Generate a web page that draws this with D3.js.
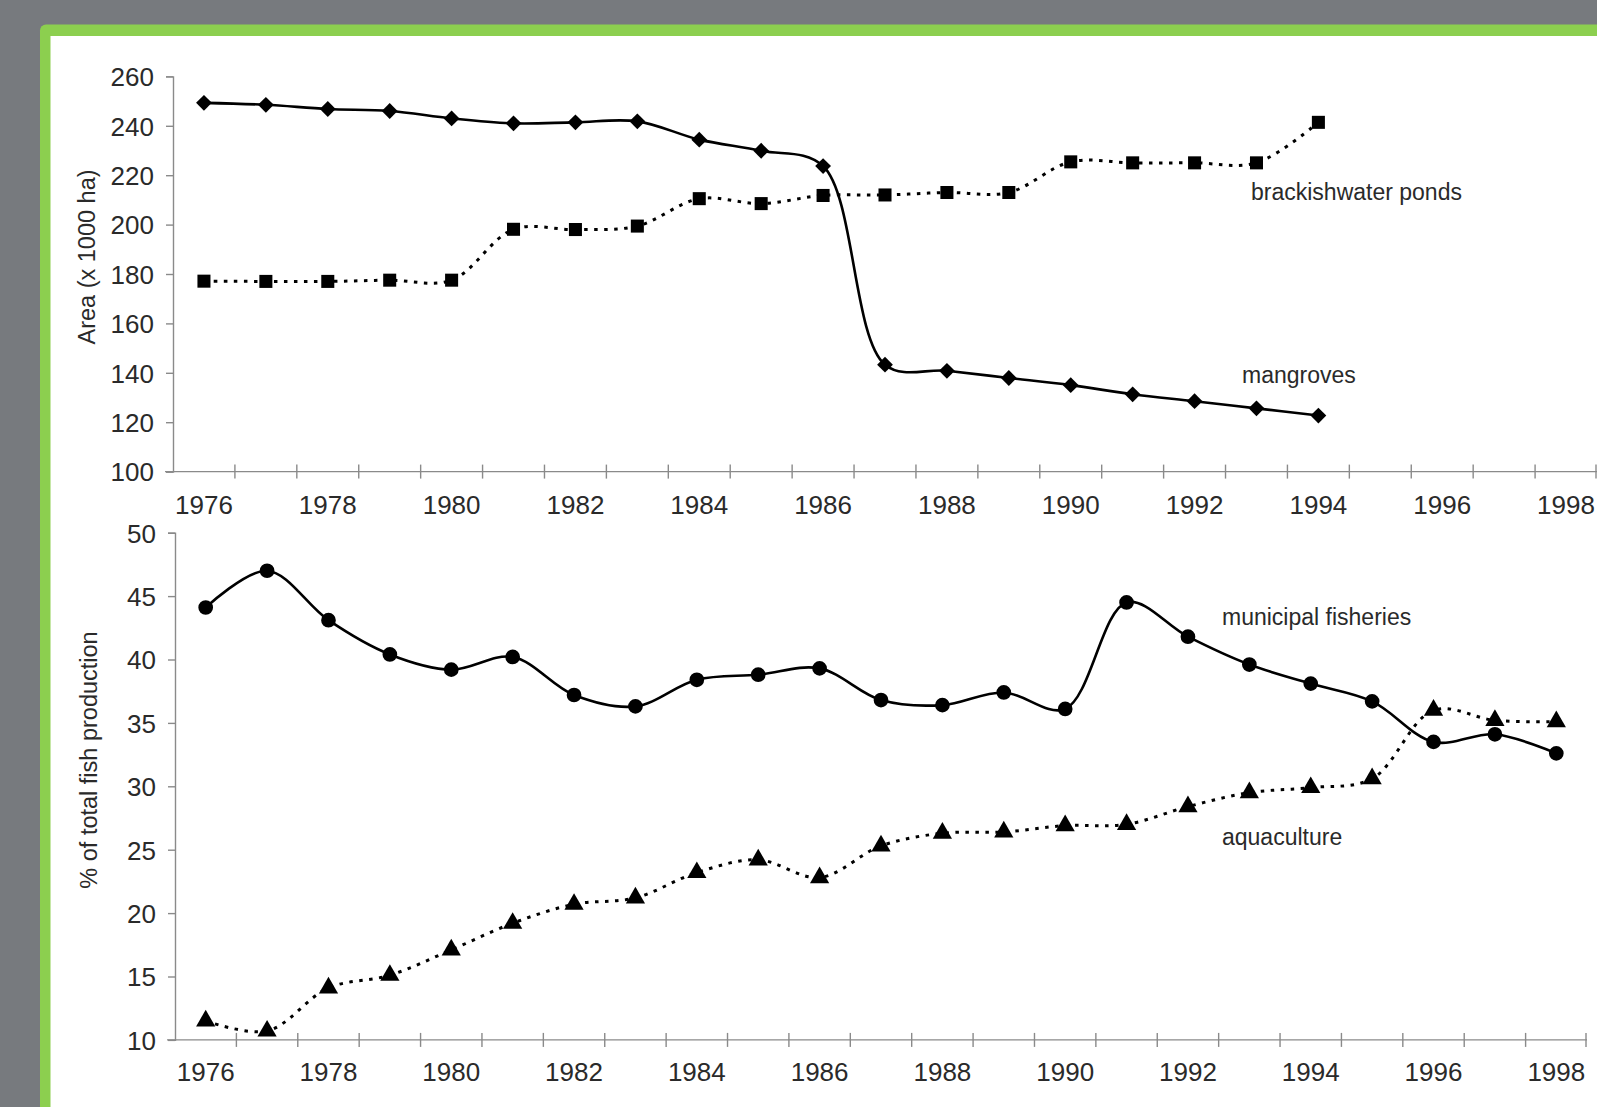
<!DOCTYPE html>
<html><head><meta charset="utf-8">
<script src="https://cdn.jsdelivr.net/npm/d3@7"></script>
<style>
html,body{margin:0;padding:0;background:#777a7e;overflow:hidden}
svg{display:block}
text{font-family:"Liberation Sans",Arial,sans-serif;fill:#2a2a2a}
</style></head>
<body>
<svg id="c" width="1597" height="1107"></svg>
<script>
// ---------- data ----------
const years = d3.range(1976, 1999);            // category axis 1976..1998
const areaYears = d3.range(1976, 1995);         // 1976..1994
const mangroves = [249.3,248.5,246.8,246,243,241,241.4,241.8,234.4,229.9,223.7,143.3,140.8,137.9,135,131.3,128.5,125.6,122.7];
const brackish  = [177.1,177,177,177.5,177.5,198.1,198,199.4,210.5,208.5,211.8,212,213,213,225.4,225,225,225,241.4];
const municipal = [44.1,47.0,43.1,40.4,39.2,40.2,37.2,36.3,38.4,38.8,39.3,36.8,36.4,37.4,36.1,44.5,41.8,39.6,38.1,36.7,33.5,34.1,32.6];
const aquaculture = [11.5,10.7,14.1,15.1,17.1,19.2,20.7,21.2,23.2,24.2,22.8,25.3,26.3,26.4,26.9,27.0,28.4,29.5,29.9,30.6,36.0,35.2,35.1];
const areaTicks = [100,120,140,160,180,200,220,240,260];
const pctTicks = [10,15,20,25,30,35,40,45,50];
const yearLabels = d3.range(1976, 1999, 2);

const svg = d3.select("#c");
// frame
svg.append("rect").attr("x",40).attr("y",24.5).attr("width",1600).attr("height",1120).attr("rx",6).attr("fill","#8ccf4f");
svg.append("rect").attr("x",50.5).attr("y",36).attr("width",1600).attr("height",1120).attr("fill","#ffffff");

function panel(cfg){
  const g = svg.append("g");
  const x = d3.scaleBand().domain(years).range(cfg.xr);
  const xc = d => x(d) + x.bandwidth()/2;
  const y = d3.scaleLinear().domain(cfg.yd).range(cfg.yr);
  const ya = g.append("g").attr("transform",`translate(${cfg.xr[0]},0)`)
    .call(d3.axisLeft(y).tickValues(cfg.yticks).tickSize(7).tickPadding(12));
  ya.select(".domain").attr("stroke","#8a8a8a").attr("stroke-width",1.4);
  ya.selectAll(".tick line").attr("stroke","#8a8a8a").attr("stroke-width",1.4);
  ya.selectAll(".tick text").style("font-size","26px").attr("fill","#2a2a2a").attr("dy","0.36em");
  const xa = g.append("g").attr("transform",`translate(0,${cfg.yr[0]})`);
  xa.append("line").attr("x1",cfg.xr[0]-8).attr("x2",cfg.xr[1]).attr("stroke","#8a8a8a").attr("stroke-width",1.4);
  xa.selectAll("line.tk").data(years.slice(1)).join("line").attr("class","tk")
    .attr("x1",d=>x(d)).attr("x2",d=>x(d)).attr("y1",-7).attr("y2",7)
    .attr("stroke","#8a8a8a").attr("stroke-width",1.4);
  xa.append("line").attr("x1",cfg.xr[1]-1).attr("x2",cfg.xr[1]-1).attr("y1",-7).attr("y2",7).attr("stroke","#8a8a8a").attr("stroke-width",1.4);
  xa.selectAll("text").data(yearLabels).join("text")
    .attr("x",d=>xc(d)).attr("y",cfg.xlabDy).attr("text-anchor","middle")
    .style("font-size","26px").text(d=>d);
  g.append("text").attr("transform",`translate(${cfg.titleX},${cfg.titleY}) rotate(-90)`)
    .attr("text-anchor","middle").style("font-size","23.5px").text(cfg.title);
  return {g,x,xc,y};
}

function series(p, yrs, vals, solid, marker){
  const data = yrs.map((d,i)=>[p.xc(d), p.y(vals[i])]);
  p.g.append("path").attr("d", d3.line().curve(d3.curveCatmullRom.alpha(0.5))(data))
    .attr("fill","none").attr("stroke","#000").attr("stroke-width", solid?2.6:3)
    .attr("stroke-dasharray", solid?null:"3.5,6.5");
  const sym = {diamond:[d3.symbolSquare,125,45], square:[d3.symbolSquare,170,0], circle:[d3.symbolCircle,170,0], triangle:[d3.symbolTriangle,160,0]}[marker];
  p.g.selectAll(null).data(data).join("path")
    .attr("transform",d=>`translate(${d[0]},${d[1]}) rotate(${sym[2]})`)
    .attr("d", d3.symbol().type(sym[0]).size(sym[1])).attr("fill","#000");
}

const topPanel = panel({xr:[173,1597], yd:[100,260], yr:[471.6,76.4], yticks:areaTicks,
  xlabDy:42, title:"Area (x 1000 ha)", titleX:95, titleY:257});
series(topPanel, areaYears, mangroves, true, "diamond");
series(topPanel, areaYears, brackish, false, "square");
topPanel.g.append("text").attr("x",1251).attr("y",200).style("font-size","23px").text("brackishwater ponds");
topPanel.g.append("text").attr("x",1242).attr("y",383).style("font-size","23px").text("mangroves");

const botPanel = panel({xr:[175,1587], yd:[10,50], yr:[1039.9,532.7], yticks:pctTicks,
  xlabDy:41, title:"% of total fish production", titleX:97, titleY:760});
series(botPanel, years, municipal, true, "circle");
series(botPanel, years, aquaculture, false, "triangle");
botPanel.g.append("text").attr("x",1222).attr("y",625).style("font-size","23px").text("municipal fisheries");
botPanel.g.append("text").attr("x",1222).attr("y",845).style("font-size","23px").text("aquaculture");
</script>
</body></html>
